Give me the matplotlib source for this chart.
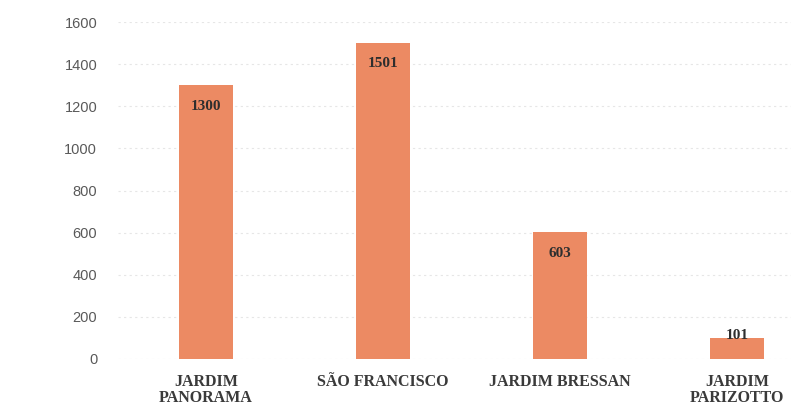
import matplotlib.pyplot as plt
import numpy as np

bairros = ["JARDIM\nPANORAMA", "SÃO FRANCISCO", "JARDIM BRESSAN", "JARDIM\nPARIZOTTO"]
casos = [1300, 1501, 603, 101]
y_ticks = [0, 200, 400, 600, 800, 1000, 1200, 1400, 1600]

BAR_COLOR = "#EC8A63"
TEXT_COLOR = "#2E2E2E"
TICK_COLOR = "#595959"

fig = plt.figure(figsize=(7.91, 4.09), dpi=100)
# axes placed in figure fraction to match the original layout
ax = fig.add_axes([118 / 791, (409 - 359) / 409, 1 - 118 / 791, (359 - 22) / 409])

X = np.arange(len(bairros))
ax.bar(X, casos, width=0.305, color=BAR_COLOR, zorder=2)

for i, v in enumerate(casos):
    # small bars get their label sitting on the top edge
    y_pos = v - 100 if v > 300 else v + 12
    ax.text(i, y_pos, str(v), ha="center", va="center",
            fontfamily="Liberation Serif", fontweight="bold",
            fontsize=11, color=TEXT_COLOR, zorder=3)

ax.set_xlim(-0.497, 3.305)
ax.set_ylim(0, 1600)
ax.set_yticks(y_ticks)
ax.set_xticks(X)
ax.set_xticklabels(bairros, fontfamily="Liberation Serif", fontweight="bold",
                   fontsize=11.5, color="#3A3A3A", linespacing=1.0, va="top")
for lbl in ax.get_yticklabels():
    lbl.set_fontfamily("Liberation Sans")
    lbl.set_fontsize(10.5)
    lbl.set_color(TICK_COLOR)

ax.tick_params(axis="x", length=0, pad=11)
ax.tick_params(axis="y", length=0, pad=15)
ax.grid(axis="y", color="#E6E6E6", linestyle=(0, (2, 3)), linewidth=0.8, zorder=0)
for s in ax.spines.values():
    s.set_visible(False)

fig.savefig("out.png", dpi=100)
